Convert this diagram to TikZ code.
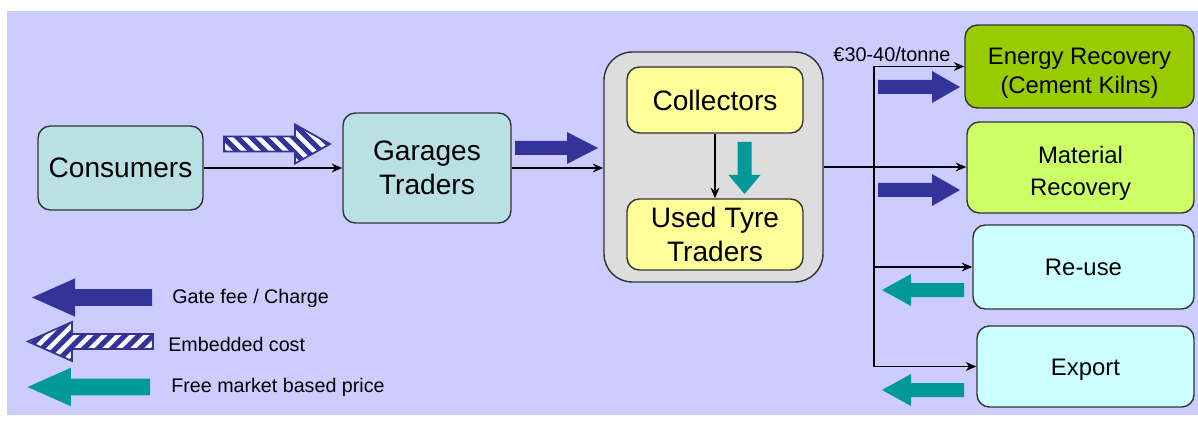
\documentclass[tikz,border=0pt]{standalone}
\usepackage{fontspec}
\setmainfont{Liberation Sans}
\usetikzlibrary{calc}
\usetikzlibrary{arrows.meta}

\definecolor{lavender}{HTML}{CCCCFF}
\definecolor{boxteal}{HTML}{B9E0E2}
\definecolor{groupgrey}{HTML}{DDDDDD}
\definecolor{paleyellow}{HTML}{FFFF99}
\definecolor{energygreen}{HTML}{99CC00}
\definecolor{matgreen}{HTML}{CCFF66}
\definecolor{palecyan}{HTML}{CCFFFF}
\definecolor{navy}{HTML}{333399}
\definecolor{darkteal}{HTML}{009999}

\tikzset{
  box/.style={draw=black!80, line width=0.8pt, rounded corners=7pt, align=center, inner sep=0pt},
  bigtext/.style={font=\fontsize{16}{19}\selectfont},
  smalltext/.style={font=\fontsize{13.6}{16.5}\selectfont},
  legendtext/.style={anchor=west, inner sep=0pt, font=\fontsize{11.2}{13}\selectfont},
  link/.style={line width=0.9pt},
  pics/fatarrow/.style n args={2}{code={
    \path[pic actions] (0,-7) -- ({#1-#2},-7) -- ({#1-#2},-16) -- (#1,0)
      -- ({#1-#2},16) -- ({#1-#2},7) -- (0,7) -- cycle;}},
  pics/hatcharrow/.style n args={2}{code={
    \begin{scope}
      \clip (0,-7.5) -- ({#1-#2},-7.5) -- ({#1-#2},-19.5) -- (#1,0)
        -- ({#1-#2},19.5) -- ({#1-#2},7.5) -- (0,7.5) -- cycle;
      \fill[white] (-5,-25) rectangle ({#1+5},25);
      \foreach \s in {-44,-30,...,#1}
        \draw[navy, line width=3pt] (\s,-22) -- ({\s+44},22);
    \end{scope}
    \draw[navy, line width=1pt] (0,-7.5) -- ({#1-#2},-7.5) -- ({#1-#2},-19.5) -- (#1,0)
      -- ({#1-#2},19.5) -- ({#1-#2},7.5) -- (0,7.5) -- cycle;}}
}

\begin{document}
\begin{tikzpicture}[x=0.02cm,y=-0.02cm,>={Stealth[length=6pt,width=5pt]}]
    \useasboundingbox (0,0) rectangle (1198,429);
    \fill[lavender] (7,11) rectangle (1198,415);
    %
    \node[box, bigtext, fill=boxteal, minimum width=3.3cm, minimum height=1.68cm] (cons) at (120.5,168) {Consumers};
    \node[box, bigtext, fill=boxteal, minimum width=3.36cm, minimum height=2.2cm] (gar) at (427,168) {Garages\\Traders};
    \node[box, fill=groupgrey, rounded corners=16pt, minimum width=4.38cm, minimum height=4.6cm] (grp) at (713.5,167) {};
    \node[box, bigtext, fill=paleyellow, minimum width=3.52cm, minimum height=1.32cm] (coll) at (715,100) {Collectors};
    \node[box, bigtext, fill=paleyellow, minimum width=3.52cm, minimum height=1.42cm] (used) at (715,234.5) {Used Tyre\\Traders};
    \node[box, smalltext, fill=energygreen, minimum width=4.58cm, minimum height=1.66cm] (en) at (1079.5,66.5) {\rule{0pt}{16.5pt}Energy Recovery\\(Cement Kilns)};
    \node[box, smalltext, fill=matgreen, minimum width=4.54cm, minimum height=1.82cm, font=\fontsize{13.6}{18.2}\selectfont] (mat) at (1080.5,167.5) {\rule{0pt}{16.5pt}Material\\Recovery};
    \node[box, smalltext, fill=palecyan, minimum width=4.42cm, minimum height=1.68cm] (reuse) at (1083.5,267) {Re-use};
    \node[box, smalltext, fill=palecyan, minimum width=4.34cm, minimum height=1.62cm] (exp) at (1085.5,366.5) {\rule{0pt}{12.5pt}Export};
    \node[inner sep=0pt, font=\fontsize{11.3}{13}\selectfont] (price) at (892,54) {€30-40/tonne};
    %
    \draw[link,->] (cons) -- (gar);
    \draw[link,->] (gar.east) -- (gar.east -| grp.west);
    \draw[link,->] (coll) -- (used);
    \draw[link,->] (grp.east) -- (mat.west |- grp.east);
    \coordinate (split) at (874,167);
    \draw[link] (split |- en.west) -- (split |- exp.west);
    \draw[link,->] (split |- en.west) -- (en.west);
    \draw[link,->] (split |- reuse.west) -- (reuse.west);
    \draw[link,->] (split |- exp.west) -- (exp.west);
    %
    \pic at (224,144) {hatcharrow={106}{35}};
    \pic[fill=navy] at (515,148) {fatarrow={83}{31}};
    \pic[fill=darkteal, rotate=-90] at (744.5,142) {fatarrow={52}{19}};
    \pic[fill=navy] at (878,87) {fatarrow={82}{28}};
    \pic[fill=navy] at (878,190) {fatarrow={82}{28}};
    \pic[fill=darkteal, xscale=-1] at (964,290) {fatarrow={82}{29}};
    \pic[fill=darkteal, xscale=-1] at (964,390) {fatarrow={82}{29}};
    %
    \pic[fill=navy, xscale=-1, scale=1.2] at (152,297.5) {fatarrow={100}{36}};
    \pic[xscale=-1] at (153,341.5) {hatcharrow={125}{44}};
    \pic[fill=darkteal, xscale=-1, scale=1.2] at (150,387) {fatarrow={102}{36}};
    \node[legendtext] (gate) at (172,298) {Gate fee / Charge};
    \node[legendtext] (embed) at (168,344) {Embedded cost};
    \node[legendtext] (free) at (171,387) {Free market based price};
\end{tikzpicture}
\end{document}
